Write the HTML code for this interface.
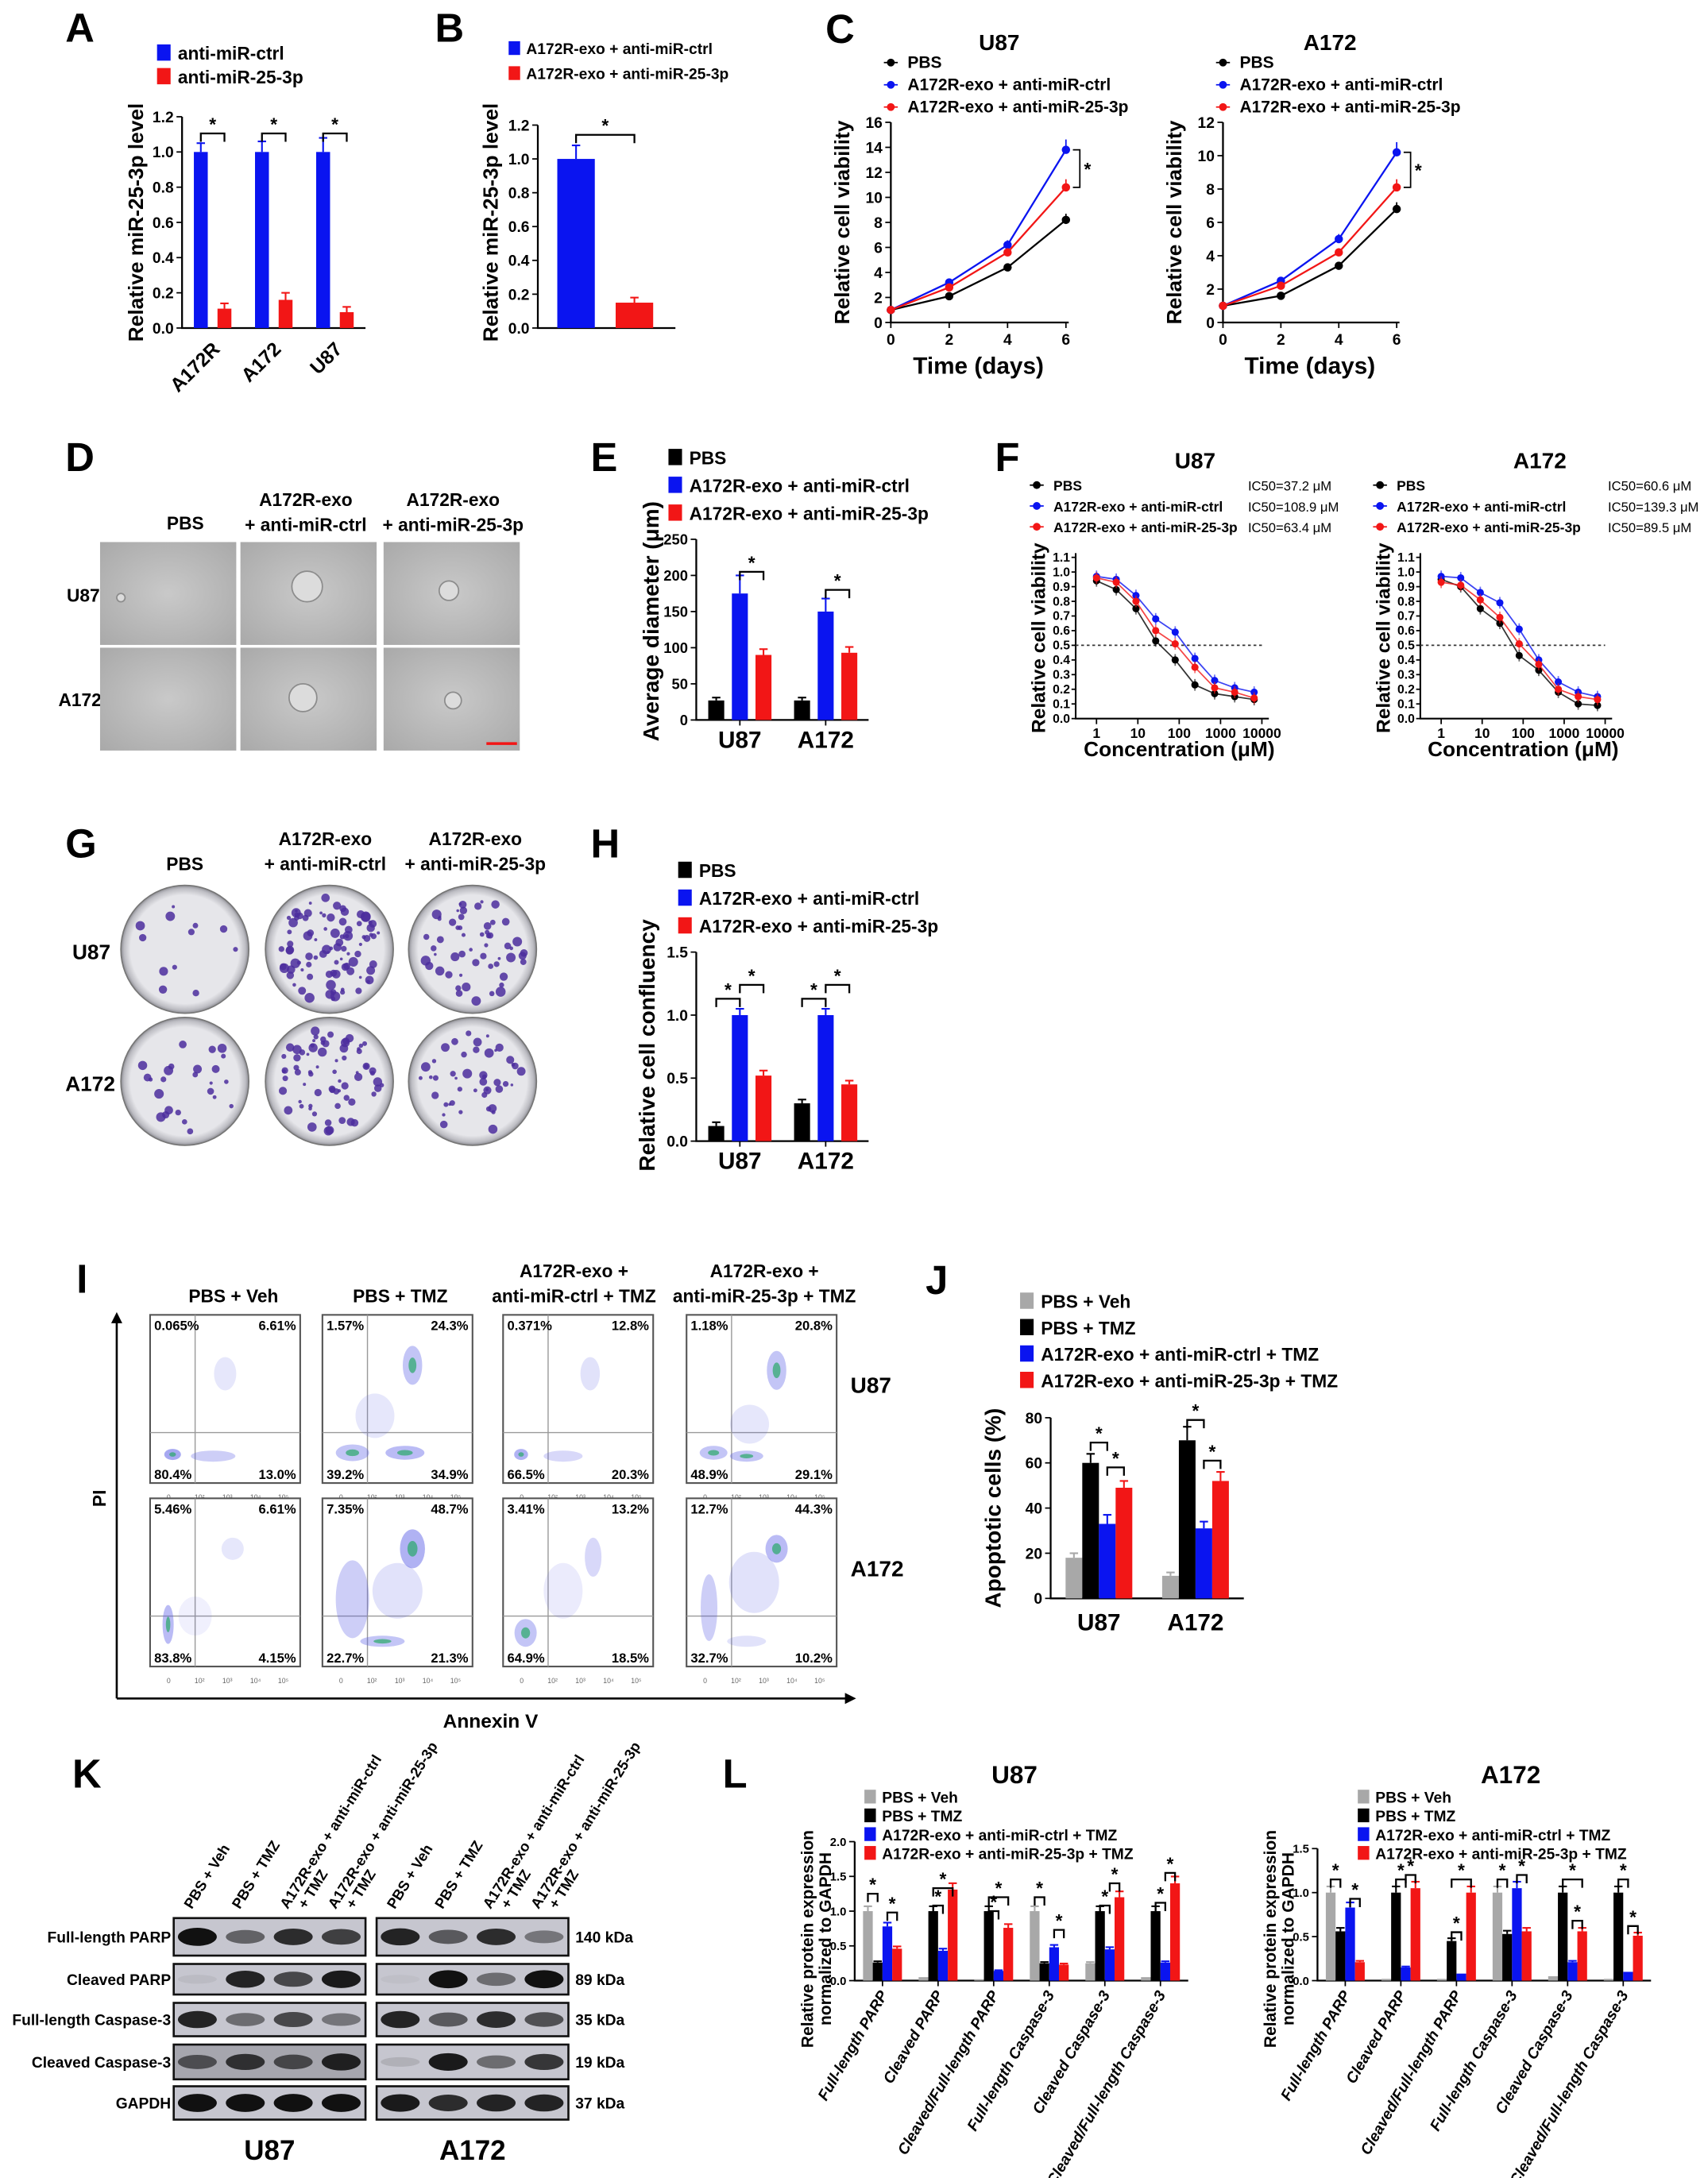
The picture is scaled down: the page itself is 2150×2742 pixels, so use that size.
<!DOCTYPE html>
<html><head><meta charset="utf-8"><style>
html,body{margin:0;padding:0;background:#fff;}
svg{display:block;font-family:"Liberation Sans",Arial,sans-serif;}
</style></head><body>
<svg id="fig" xmlns="http://www.w3.org/2000/svg" width="2150" height="2742" viewBox="0 0 1229 1567" preserveAspectRatio="none">
<defs>
<radialGradient id="micro" cx="50%" cy="50%" r="70%"><stop offset="0" stop-color="#c9c9c9"/><stop offset="1" stop-color="#a9a9a9"/></radialGradient>
<radialGradient id="plate" cx="50%" cy="50%" r="50%"><stop offset="0.85" stop-color="#e6e6ea"/><stop offset="0.95" stop-color="#bdbdc3"/><stop offset="1" stop-color="#8e8e95"/></radialGradient>
</defs>
</svg>
<script>
// ---------- data ----------
const aCats=['A172R','A172','U87'];
const aCtrl=[1.0,1.0,1.0];
const aAnti=[0.11,0.16,0.09];
const aCtrlErr=[0.05,0.06,0.08];
const aAntiErr=[0.03,0.04,0.03];
const bVals=[1.0,0.15];
const bErr=[0.08,0.03];
const cDays=[0,2,4,6];
const cU87Pbs=[1,2.1,4.4,8.2];
const cU87Ctrl=[1,3.2,6.2,13.8];
const cU87Anti=[1,2.8,5.6,10.8];
const cA172Pbs=[1,1.6,3.4,6.8];
const cA172Ctrl=[1,2.5,5.0,10.2];
const cA172Anti=[1,2.2,4.2,8.1];
const eCats=['U87','A172'];
const ePbs=[27,27];
const eCtrl=[175,150];
const eAnti=[90,93];
const fConc=[1,3,9,27,80,240,720,2200,6500];
const fU87Pbs=[0.94,0.88,0.75,0.53,0.40,0.23,0.17,0.15,0.13];
const fU87Ctrl=[0.97,0.95,0.84,0.68,0.59,0.41,0.26,0.21,0.18];
const fU87Anti=[0.96,0.93,0.80,0.60,0.51,0.35,0.21,0.18,0.14];
const fA172Pbs=[0.95,0.90,0.75,0.65,0.43,0.33,0.18,0.10,0.09];
const fA172Ctrl=[0.97,0.96,0.86,0.79,0.61,0.40,0.25,0.18,0.15];
const fA172Anti=[0.93,0.91,0.81,0.69,0.51,0.37,0.20,0.15,0.13];
const hCats=['U87','A172'];
const hPbs=[0.12,0.3];
const hCtrl=[1.0,1.0];
const hAnti=[0.52,0.45];
const jCats=['U87','A172'];
const jVeh=[18,10];
const jTmz=[60,70];
const jCtrl=[33,31];
const jAnti=[49,52];
const lCats=['Full-length PARP','Cleaved PARP','Cleaved/Full-length PARP','Full-length Caspase-3','Cleaved Caspase-3','Cleaved/Full-length Caspase-3'];
const lU87Veh=[1.0,0.05,0.02,1.0,0.25,0.05];
const lU87Tmz=[0.26,1.0,1.0,0.25,1.0,1.0];
const lU87Ctrl=[0.78,0.43,0.14,0.48,0.45,0.26];
const lU87Anti=[0.46,1.31,0.76,0.23,1.2,1.4];
const lA172Veh=[1.0,0.02,0.02,1.0,0.05,0.02];
const lA172Tmz=[0.56,1.0,0.45,0.53,1.0,1.0];
const lA172Ctrl=[0.83,0.15,0.08,1.05,0.21,0.1];
const lA172Anti=[0.21,1.05,1.0,0.56,0.56,0.51];

const NS='http://www.w3.org/2000/svg';
const svg=document.getElementById('fig');
const BLUE='#0a14f0',RED='#f21616',BLK='#000',GRY='#a8a8a8';
function mk(tag,a,name,parent){
  const el=document.createElementNS(NS,tag);
  for(const k in a) el.setAttribute(k,a[k]);
  
  
  (parent||svg).appendChild(el);
  return el;
}
function T(x,y,s,fs,name,o){
  o=o||{};
  const el=mk('text',{x:x,y:y,'font-size':fs,'font-weight':o.w||'bold','text-anchor':o.a||'start',fill:o.f||'#000','font-style':o.it?'italic':'normal'},name);
  el.textContent=s;
  if(o.rot!=null) el.setAttribute('transform','rotate('+o.rot+' '+x+' '+y+')');
  return el;
}
function sig(xa,xb,y,name){
  mk('path',{d:'M'+xa+','+(y+6)+'V'+y+'H'+xb+'V'+(y+6),stroke:'#000','stroke-width':1.3,fill:'none'},name+'-bracket');
  T((xa+xb)/2,y-2,'*',13,name+'-star',{a:'middle'});
}
function legend(x,y,dy,items,colors,fs,name,kind){
  items.forEach(function(s,i){
    const yy=y+i*dy;
    if(kind==='marker'){
      mk('line',{x1:x-5,x2:x+5,y1:yy-4,y2:yy-4,stroke:colors[i],'stroke-width':1},name+'-marker-line');
      mk('circle',{cx:x,cy:yy-4,r:2.8,fill:colors[i]},name+'-marker');
      T(x+12,yy,s,fs,name+'-label');
    } else {
      mk('rect',{x:x,y:yy-fs*0.85,width:fs*0.75,height:fs*0.9,fill:colors[i]},name+'-swatch');
      T(x+fs*1.15,yy,s,fs,name+'-label');
    }
  });
}
function bars(p){
  const sy=function(v){return p.yBot-v/p.max*(p.yBot-p.yTop);};
  mk('path',{d:'M'+p.x0+','+p.yTop+'V'+p.yBot+'H'+p.x1,stroke:'#000','stroke-width':1.3,fill:'none'},p.name+'-axes');
  p.ticks.forEach(function(t){
    mk('line',{x1:p.x0-4,x2:p.x0,y1:sy(t),y2:sy(t),stroke:'#000','stroke-width':1},p.name+'-y-tick');
    T(p.x0-6,sy(t)+p.tfs*0.36,t.toFixed(p.dec),p.tfs,p.name+'-y-tick-label',{a:'end'});
  });
  const gw=(p.x1-p.x0-(p.pad||0))/p.cats.length;const n=p.series.length;const gap=p.gap||0;
  const bx=function(i,j){return p.x0+(p.pad||0)+gw*(i+0.5)-(n*p.bw+(n-1)*gap)/2+j*(p.bw+gap)+p.bw/2;};
  p.cats.forEach(function(c,i){
    p.series.forEach(function(s,j){
      const v=s[i];const x=bx(i,j);
      const e=p.errs?p.errs[j][i]:0;
      if(e){
        mk('line',{x1:x,x2:x,y1:sy(v),y2:sy(v+e),stroke:p.colors[j],'stroke-width':1.2},p.name+'-error-bar');
        mk('line',{x1:x-3,x2:x+3,y1:sy(v+e),y2:sy(v+e),stroke:p.colors[j],'stroke-width':1.2},p.name+'-error-cap');
      }
      mk('rect',{x:x-p.bw/2,y:sy(v),width:p.bw,height:p.yBot-sy(v),fill:p.colors[j]},p.name+'-bar');
    });
    const cx=p.x0+(p.pad||0)+gw*(i+0.5);
    if(p.xtick) mk('line',{x1:cx,x2:cx,y1:p.yBot,y2:p.yBot+4,stroke:'#000'},p.name+'-x-tick');
    if(p.rot) T(cx+(p.catDx||4),p.yBot+p.catDy,c,p.catFs,p.name+'-category-label',{a:'end',rot:p.rot,it:p.italic});
    else T(cx,p.yBot+p.catDy,c,p.catFs,p.name+'-category-label',{a:'middle'});
  });
  return {bx:bx,sy:sy};
}

// ---------- panel letters ----------
[['A',47,30],['B',313,30],['C',594,31],['D',47,339],['E',425,339],['F',716,339],['G',47,617],['H',425,617],['I',55,930],['J',666,931],['K',52,1286],['L',520,1286]].forEach(function(a){
  T(a[1],a[2],a[0],29,'panel-label-'+a[0].toLowerCase());
});

// ---------- A ----------
legend(113,43,17,['anti-miR-ctrl','anti-miR-25-3p'],[BLUE,RED],13,'panel-a-legend');
T(103,160,'Relative miR-25-3p level',15,'panel-a-y-axis-title',{a:'middle',rot:-90});
(function(){
  const b=bars({name:'panel-a',x0:131,x1:263,yTop:84,yBot:236,max:1.2,ticks:[0,0.2,0.4,0.6,0.8,1.0,1.2],dec:1,tfs:11,cats:aCats,series:[aCtrl,aAnti],errs:[aCtrlErr,aAntiErr],colors:[BLUE,RED],bw:10,gap:7,catFs:14,rot:-45,catDy:16,catDx:6});
  aCats.forEach(function(c,i){sig(b.bx(i,0),b.bx(i,1),96,'panel-a-significance');});
})();

// ---------- B ----------
legend(366,39,18,['A172R-exo + anti-miR-ctrl','A172R-exo + anti-miR-25-3p'],[BLUE,RED],11,'panel-b-legend');
T(358,160,'Relative miR-25-3p level',15,'panel-b-y-axis-title',{a:'middle',rot:-90});
(function(){
  const b=bars({name:'panel-b',x0:387,x1:486,yTop:90,yBot:236,max:1.2,ticks:[0,0.2,0.4,0.6,0.8,1.0,1.2],dec:1,tfs:11,cats:[''],series:[[bVals[0]],[bVals[1]]],errs:[[bErr[0]],[bErr[1]]],colors:[BLUE,RED],bw:27,gap:15,catFs:12,catDy:16,pad:-2});
  sig(b.bx(0,0),b.bx(0,1),97,'panel-b-significance');
})();

// ---------- C ----------
function lineChart(p){
  const sx=function(v){return p.x0+v/6*(p.x1-p.x0);};
  const sy=function(v){return p.yBot-v/p.max*(p.yBot-p.yTop);};
  mk('path',{d:'M'+p.x0+','+p.yTop+'V'+p.yBot+'H'+(p.x1+2),stroke:'#000','stroke-width':1.3,fill:'none'},p.name+'-axes');
  p.ticks.forEach(function(t){
    mk('line',{x1:p.x0-4,x2:p.x0,y1:sy(t),y2:sy(t),stroke:'#000'},p.name+'-y-tick');
    T(p.x0-6,sy(t)+4,String(t),11,p.name+'-y-tick-label',{a:'end'});
  });
  cDays.forEach(function(d){
    mk('line',{x1:sx(d),x2:sx(d),y1:p.yBot,y2:p.yBot+4,stroke:'#000'},p.name+'-x-tick');
    T(sx(d),p.yBot+16,String(d),11,p.name+'-x-tick-label',{a:'middle'});
  });
  p.series.forEach(function(s,j){
    mk('polyline',{points:cDays.map(function(d,i){return sx(d)+','+sy(s[i]);}).join(' '),fill:'none',stroke:p.colors[j],'stroke-width':1.3},p.name+'-line');
    cDays.forEach(function(d,i){
      const e=s[i]*0.06;
      mk('line',{x1:sx(d),x2:sx(d),y1:sy(s[i]),y2:sy(s[i]+e),stroke:p.colors[j]},p.name+'-error-bar');
      mk('circle',{cx:sx(d),cy:sy(s[i]),r:3,fill:p.colors[j]},p.name+'-point');
    });
  });
  const last=cDays.length-1;
  const ya=sy(p.series[1][last]),yb=sy(p.series[2][last]);
  mk('path',{d:'M'+(p.x1+5)+','+ya+'H'+(p.x1+10)+'V'+yb+'H'+(p.x1+5),stroke:'#000',fill:'none','stroke-width':1},p.name+'-significance-bracket');
  T(p.x1+13,(ya+yb)/2+5,'*',13,p.name+'-significance-star');
  T((p.x0+p.x1)/2,p.yBot+37,'Time (days)',17,p.name+'-x-axis-title',{a:'middle'});
  T(p.x0-30,(p.yTop+p.yBot)/2,'Relative cell viability',15,p.name+'-y-axis-title',{a:'middle',rot:-90});
  T(p.tx,36,p.title,16,p.name+'-title',{a:'middle'});
  legend(p.x0,p.lgY,16,['PBS','A172R-exo + anti-miR-ctrl','A172R-exo + anti-miR-25-3p'],[BLK,BLUE,RED],12,p.name+'-legend','marker');
}
lineChart({name:'panel-c-u87',x0:641,x1:767,yTop:88,yBot:232,max:16,ticks:[0,2,4,6,8,10,12,14,16],series:[cU87Pbs,cU87Ctrl,cU87Anti],colors:[BLK,BLUE,RED],title:'U87',tx:719,lgY:49});
lineChart({name:'panel-c-a172',x0:880,x1:1005,yTop:88,yBot:232,max:12,ticks:[0,2,4,6,8,10,12],series:[cA172Pbs,cA172Ctrl,cA172Anti],colors:[BLK,BLUE,RED],title:'A172',tx:957,lgY:49});

// ---------- D ----------
T(120,381,'PBS',13,'panel-d-column-label');
T(220,364,'A172R-exo',13,'panel-d-column-label',{a:'middle'});
T(220,382,'+ anti-miR-ctrl',13,'panel-d-column-label',{a:'middle'});
T(326,364,'A172R-exo',13,'panel-d-column-label',{a:'middle'});
T(326,382,'+ anti-miR-25-3p',13,'panel-d-column-label',{a:'middle'});
T(48,433,'U87',13,'panel-d-row-label');
T(42,508,'A172',13,'panel-d-row-label');
[72,173,276].forEach(function(x,ci){[390,466].forEach(function(y,ri){
  mk('rect',{x:x,y:y,width:98,height:74,fill:'url(#micro)'},'panel-d-micrograph');
  const sp=[[[15,40,3],[160,0,0]],[[48,32,11],[45,36,10]],[[47,35,7],[50,38,6]]][ci][ri];
  if(sp[2]) mk('circle',{cx:x+sp[0],cy:y+sp[1],r:sp[2],fill:'#dcdcdc',stroke:'#8c8c8c','stroke-width':1},'panel-d-sphere');
});});
mk('line',{x1:350,x2:372,y1:535,y2:535,stroke:RED,'stroke-width':2},'panel-d-scale-bar');

// ---------- E ----------
legend(481,334,20,['PBS','A172R-exo + anti-miR-ctrl','A172R-exo + anti-miR-25-3p'],[BLK,BLUE,RED],13,'panel-e-legend');
T(474,447,'Average diameter (μm)',16,'panel-e-y-axis-title',{a:'middle',rot:-90});
(function(){
  const b=bars({name:'panel-e',x0:501,x1:625,yTop:388,yBot:518,max:250,ticks:[0,50,100,150,200,250],dec:0,tfs:10.5,cats:eCats,series:[ePbs,eCtrl,eAnti],errs:[[4,4],[25,18],[8,8]],colors:[BLK,BLUE,RED],bw:11.5,gap:5.5,catFs:17,catDy:20,pad:0.5,xtick:true});
  eCats.forEach(function(c,i){sig(b.bx(i,1),b.bx(i,2),b.sy(eCtrl[i]+30),'panel-e-significance');});
})();

// ---------- F ----------
function dose(p){
  const lx=function(v){return p.xs+Math.log10(v)/4*(p.xe-p.xs);};
  const sy=function(v){return p.yBot-v/1.1*(p.yBot-p.yTop);};
  mk('path',{d:'M'+p.x0+','+(p.yTop-3)+'V'+p.yBot+'H'+(p.xe+5),stroke:'#000','stroke-width':1.2,fill:'none'},p.name+'-axes');
  [0,0.1,0.2,0.3,0.4,0.5,0.6,0.7,0.8,0.9,1.0,1.1].forEach(function(t){
    mk('line',{x1:p.x0-3,x2:p.x0,y1:sy(t),y2:sy(t),stroke:'#000'},p.name+'-y-tick');
    T(p.x0-4,sy(t)+3,t.toFixed(1),9,p.name+'-y-tick-label',{a:'end'});
  });
  [1,10,100,1000,10000].forEach(function(t){
    mk('line',{x1:lx(t),x2:lx(t),y1:p.yBot,y2:p.yBot+4,stroke:'#000'},p.name+'-x-tick');
    T(lx(t),p.yBot+14,String(t),10,p.name+'-x-tick-label',{a:'middle'});
  });
  mk('line',{x1:p.x0,x2:p.xe,y1:sy(0.5),y2:sy(0.5),stroke:'#333','stroke-dasharray':'2,2'},p.name+'-ic50-line');
  p.series.forEach(function(s,j){
    mk('polyline',{points:fConc.map(function(c,i){return lx(c)+','+sy(s[i]);}).join(' '),fill:'none',stroke:p.colors[j],'stroke-width':1,opacity:0.8},p.name+'-curve');
    fConc.forEach(function(c,i){
      mk('line',{x1:lx(c),x2:lx(c),y1:sy(s[i]-0.04),y2:sy(s[i]+0.04),stroke:p.colors[j],opacity:0.6},p.name+'-error-bar');
      mk('circle',{cx:lx(c),cy:sy(s[i]),r:2.6,fill:p.colors[j]},p.name+'-point');
    });
  });
  T((p.xs+p.xe)/2,p.yBot+27,'Concentration (μM)',15,p.name+'-x-axis-title',{a:'middle'});
  T(p.x0-22,(p.yTop+p.yBot)/2,'Relative cell viability',14,p.name+'-y-axis-title',{a:'middle',rot:-90});
  T(p.tx,337,p.title,16,p.name+'-title',{a:'middle'});
  legend(p.lx,353,15,['PBS','A172R-exo + anti-miR-ctrl','A172R-exo + anti-miR-25-3p'],[BLK,BLUE,RED],10,p.name+'-legend','marker');
  p.ic.forEach(function(s,i){T(p.icx,353+i*15,s,9.5,p.name+'-ic50-label',{w:'normal'});});
}
dose({name:'panel-f-u87',x0:774,xs:789,xe:908,yTop:401,yBot:517,series:[fU87Pbs,fU87Ctrl,fU87Anti],colors:[BLK,BLUE,RED],title:'U87',tx:860,lx:746,icx:898,ic:['IC50=37.2 μM','IC50=108.9 μM','IC50=63.4 μM']});
dose({name:'panel-f-a172',x0:1022,xs:1037,xe:1155,yTop:401,yBot:517,series:[fA172Pbs,fA172Ctrl,fA172Anti],colors:[BLK,BLUE,RED],title:'A172',tx:1108,lx:993,icx:1157,ic:['IC50=60.6 μM','IC50=139.3 μM','IC50=89.5 μM']});

// ---------- G ----------
T(133,626,'PBS',13,'panel-g-column-label',{a:'middle'});
T(234,608,'A172R-exo',13,'panel-g-column-label',{a:'middle'});
T(234,626,'+ anti-miR-ctrl',13,'panel-g-column-label',{a:'middle'});
T(342,608,'A172R-exo',13,'panel-g-column-label',{a:'middle'});
T(342,626,'+ anti-miR-25-3p',13,'panel-g-column-label',{a:'middle'});
T(52,690,'U87',15,'panel-g-row-label');
T(47,785,'A172',15,'panel-g-row-label');
(function(){
  let seed=7;function rnd(){seed=(seed*16807)%2147483647;return seed/2147483647;}
  const density=[[12,90,55],[25,70,45]];
  [133,237,340].forEach(function(cx,ci){[683,778].forEach(function(cy,ri){
    mk('circle',{cx:cx,cy:cy,r:46,fill:'url(#plate)',stroke:'#777','stroke-width':1},'panel-g-plate');
    const n=density[ri][ci];
    for(let k=0;k<n;k++){
      const a=rnd()*6.283,r=Math.sqrt(rnd())*38;
      mk('circle',{cx:cx+r*Math.cos(a),cy:cy+r*Math.sin(a),r:1+rnd()*2.6,fill:'#4b2d9e',opacity:0.85},'panel-g-colony');
    }
  });});
})();

// ---------- H ----------
legend(488,631,20,['PBS','A172R-exo + anti-miR-ctrl','A172R-exo + anti-miR-25-3p'],[BLK,BLUE,RED],13,'panel-h-legend');
T(471,752,'Relative cell confluency',16,'panel-h-y-axis-title',{a:'middle',rot:-90});
(function(){
  const b=bars({name:'panel-h',x0:501,x1:625,yTop:685,yBot:821,max:1.5,ticks:[0,0.5,1.0,1.5],dec:1,tfs:11,cats:hCats,series:[hPbs,hCtrl,hAnti],errs:[[0.03,0.03],[0.05,0.05],[0.04,0.03]],colors:[BLK,BLUE,RED],bw:11.5,gap:5.5,pad:0.5,catFs:17,catDy:20,xtick:true});
  hCats.forEach(function(c,i){
    sig(b.bx(i,0),b.bx(i,1),b.sy(1.13),'panel-h-significance');
    sig(b.bx(i,1),b.bx(i,2),b.sy(1.24),'panel-h-significance');
  });
})();

// ---------- I ----------
T(168,937,'PBS + Veh',13,'panel-i-column-label',{a:'middle'});
T(288,937,'PBS + TMZ',13,'panel-i-column-label',{a:'middle'});
T(413,919,'A172R-exo +',13,'panel-i-column-label',{a:'middle'});
T(413,937,'anti-miR-ctrl + TMZ',13,'panel-i-column-label',{a:'middle'});
T(550,919,'A172R-exo +',13,'panel-i-column-label',{a:'middle'});
T(550,937,'anti-miR-25-3p + TMZ',13,'panel-i-column-label',{a:'middle'});
T(612,1002,'U87',16,'panel-i-row-label');
T(612,1134,'A172',16,'panel-i-row-label');
mk('path',{d:'M84,1222V948',stroke:'#000','stroke-width':1.5,fill:'none'},'panel-i-y-arrow');
mk('path',{d:'M80,952L84,944L88,952Z',fill:'#000'},'panel-i-y-arrowhead');
mk('path',{d:'M84,1222H612',stroke:'#000','stroke-width':1.5,fill:'none'},'panel-i-x-arrow');
mk('path',{d:'M608,1218L616,1222L608,1226Z',fill:'#000'},'panel-i-x-arrowhead');
T(76,1078,'PI',13,'panel-i-y-axis-title',{a:'middle',rot:-90});
T(353,1243,'Annexin V',14,'panel-i-x-axis-title',{a:'middle'});
(function(){
  const cols=[108,232,362,494],rows=[946,1078],W=108,H=121;
  const pct=[
    [['0.065%','6.61%','80.4%','13.0%'],['1.57%','24.3%','39.2%','34.9%'],['0.371%','12.8%','66.5%','20.3%'],['1.18%','20.8%','48.9%','29.1%']],
    [['5.46%','6.61%','83.8%','4.15%'],['7.35%','48.7%','22.7%','21.3%'],['3.41%','13.2%','64.9%','18.5%'],['12.7%','44.3%','32.7%','10.2%']]];
  const blobs=[
    [[[0.15,0.83,6,4,0.9],[0.42,0.84,16,4,0.5],[0.5,0.35,8,12,0.25]],[[0.2,0.82,12,6,0.6],[0.35,0.6,14,16,0.25],[0.55,0.82,14,5,0.7],[0.6,0.3,7,14,0.6]],[[0.12,0.83,5,4,0.8],[0.4,0.84,14,4,0.4],[0.58,0.35,7,12,0.3]],[[0.18,0.82,10,5,0.6],[0.42,0.65,14,14,0.25],[0.4,0.84,12,4,0.6],[0.6,0.33,7,14,0.6]]],
    [[[0.12,0.75,4,14,0.7],[0.3,0.7,12,14,0.15],[0.55,0.3,8,8,0.25]],[[0.2,0.6,12,28,0.5],[0.5,0.55,18,20,0.3],[0.6,0.3,9,14,0.8],[0.4,0.85,16,4,0.6]],[[0.15,0.8,8,10,0.6],[0.4,0.55,14,20,0.2],[0.6,0.35,6,14,0.4]],[[0.15,0.65,6,24,0.5],[0.45,0.5,18,22,0.3],[0.6,0.3,8,10,0.7],[0.4,0.85,14,4,0.3]]]];
  rows.forEach(function(y,ri){cols.forEach(function(x,ci){
    mk('rect',{x:x,y:y,width:W,height:H,fill:'#fff',stroke:'#555','stroke-width':1.2},'panel-i-flow-plot');
    mk('line',{x1:x+W*0.3,x2:x+W*0.3,y1:y,y2:y+H,stroke:'#999','stroke-width':0.8},'panel-i-gate-vertical');
    mk('line',{x1:x,x2:x+W,y1:y+H*0.7,y2:y+H*0.7,stroke:'#999','stroke-width':0.8},'panel-i-gate-horizontal');
    blobs[ri][ci].forEach(function(b){
      mk('ellipse',{cx:x+W*b[0],cy:y+H*b[1],rx:b[2],ry:b[3],fill:'#5a5ee6',opacity:b[4]*0.6},'panel-i-event-cloud');
      if(b[4]>0.55) mk('ellipse',{cx:x+W*b[0],cy:y+H*b[1],rx:b[2]*0.4,ry:b[3]*0.4,fill:'#2aa86a',opacity:0.7},'panel-i-event-core');
    });
    const p=pct[ri][ci];
    T(x+3,y+11,p[0],9.5,'panel-i-quadrant-percent');
    T(x+W-3,y+11,p[1],9.5,'panel-i-quadrant-percent',{a:'end'});
    T(x+3,y+H-3,p[2],9.5,'panel-i-quadrant-percent');
    T(x+W-3,y+H-3,p[3],9.5,'panel-i-quadrant-percent',{a:'end'});
    ['0','10²','10³','10⁴','10⁵'].forEach(function(s,k){T(x+12+k*20,y+H+12,s,5,'panel-i-x-tick-label',{w:'normal',f:'#666'});});
  });});
})();

// ---------- J ----------
legend(734,941,19,['PBS + Veh','PBS + TMZ','A172R-exo + anti-miR-ctrl + TMZ','A172R-exo + anti-miR-25-3p + TMZ'],[GRY,BLK,BLUE,RED],13,'panel-j-legend');
T(720,1085,'Apoptotic  cells (%)',16,'panel-j-y-axis-title',{a:'middle',rot:-90});
(function(){
  const b=bars({name:'panel-j',x0:756,x1:895,yTop:1020,yBot:1150,max:80,ticks:[0,20,40,60,80],dec:0,tfs:11,cats:jCats,series:[jVeh,jTmz,jCtrl,jAnti],errs:[[2,1.5],[4,6],[4,3],[3,4]],colors:[GRY,BLK,BLUE,RED],bw:12,catFs:17,catDy:23});
  jCats.forEach(function(c,i){
    sig(b.bx(i,1),b.bx(i,2),b.sy(jTmz[i]+9),'panel-j-significance');
    sig(b.bx(i,2),b.bx(i,3),b.sy(jAnti[i]+9),'panel-j-significance');
  });
})();

// ---------- K ----------
(function(){
  const rows=['Full-length PARP','Cleaved PARP','Full-length Caspase-3','Cleaved Caspase-3','GAPDH'];
  const kda=['140 kDa','89 kDa','35 kDa','19 kDa','37 kDa'];
  const ys=[1380,1413,1441,1471,1501];const hs=[27,22,24,25,24];
  const u87=[[1,0.55,0.85,0.75],[0.06,0.9,0.7,0.95],[0.9,0.5,0.7,0.45],[0.6,0.8,0.65,0.9],[1,1,1,1]];
  const a172=[[0.9,0.6,0.85,0.45],[0.04,1,0.5,1],[0.9,0.6,0.85,0.65],[0.12,0.95,0.5,0.8],[0.95,0.85,0.9,0.9]];
  const blocks=[[125,u87],[271,a172]];
  rows.forEach(function(r,ri){
    T(123,ys[ri]+hs[ri]/2+4,r,11,'panel-k-row-label',{a:'end'});
    T(414,ys[ri]+hs[ri]/2+4,kda[ri],11,'panel-k-kda-label');
    blocks.forEach(function(bl){
      const x=bl[0];
      mk('rect',{x:x,y:ys[ri],width:138,height:hs[ri],fill:ri===3&&x===125?'#a6a6ae':'#c6c6cf',stroke:'#111','stroke-width':1.5},'panel-k-blot');
      bl[1][ri].forEach(function(v,k){
        const cx=x+17+k*34.5;
        mk('ellipse',{cx:cx,cy:ys[ri]+hs[ri]/2,rx:14,ry:3+v*3.5,fill:'#111',opacity:v},'panel-k-band');
      });
    });
  });
  const lanes=[['PBS + Veh',''],['PBS + TMZ',''],['A172R-exo + anti-miR-ctrl','+ TMZ'],['A172R-exo + anti-miR-25-3p','+ TMZ']];
  blocks.forEach(function(bl){
    lanes.forEach(function(l,k){
      const cx=bl[0]+17+k*34.5;
      T(cx-4,1374,l[0],10.5,'panel-k-lane-label',{rot:-58});
      if(l[1]) T(cx+9,1374,l[1],10.5,'panel-k-lane-label',{rot:-58});
    });
  });
  T(194,1554,'U87',20,'panel-k-cell-label',{a:'middle'});
  T(340,1554,'A172',20,'panel-k-cell-label',{a:'middle'});
})();

// ---------- L ----------
function lPanel(p){
  legend(p.lgx,1297,13.5,['PBS + Veh','PBS + TMZ','A172R-exo + anti-miR-ctrl + TMZ','A172R-exo + anti-miR-25-3p + TMZ'],[GRY,BLK,BLUE,RED],11,p.name+'-legend');
  T(p.tx,1283,p.title,18,p.name+'-title',{a:'middle'});
  T(p.x0-30,1395,'Relative protein expression',12,p.name+'-y-axis-title',{a:'middle',rot:-90});
  T(p.x0-17,1395,'normalized to GAPDH',12,p.name+'-y-axis-title',{a:'middle',rot:-90});
  const b=bars({name:p.name,x0:p.x0,x1:p.x1,yTop:p.yTop,yBot:1425,max:p.max,ticks:p.ticks,dec:1,tfs:8.5,cats:lCats,series:p.series,errs:p.series.map(function(s){return s.map(function(v){return v>0.1?v*0.07:0;});}),colors:[GRY,BLK,BLUE,RED],bw:7,catFs:11,rot:-60,catDy:10,catDx:4,italic:true,xtick:true});
  p.sigs.forEach(function(s){sig(b.bx(s[0],s[1]),b.bx(s[0],s[2]),b.sy(s[3]),p.name+'-significance');});
}
lPanel({name:'panel-l-u87',x0:615,x1:855,yTop:1325,max:2.0,ticks:[0,0.5,1.0,1.5,2.0],series:[lU87Veh,lU87Tmz,lU87Ctrl,lU87Anti],title:'U87',tx:730,lgx:622,
  sigs:[[0,0,1,1.25],[0,2,3,0.98],[1,1,3,1.33],[1,1,2,1.08],[2,1,3,1.2],[2,1,2,1.0],[3,0,1,1.2],[3,2,3,0.73],[4,1,2,1.08],[4,2,3,1.4],[5,1,2,1.12],[5,2,3,1.55]]});
lPanel({name:'panel-l-a172',x0:948,x1:1188,yTop:1330,max:1.5,ticks:[0,0.5,1.0,1.5],series:[lA172Veh,lA172Tmz,lA172Ctrl,lA172Anti],title:'A172',tx:1087,lgx:977,
  sigs:[[0,0,1,1.15],[0,2,3,0.93],[1,1,2,1.15],[1,2,3,1.2],[2,1,3,1.15],[2,1,2,0.55],[3,0,1,1.15],[3,2,3,1.2],[4,1,3,1.15],[4,2,3,0.68],[5,1,2,1.15],[5,2,3,0.62]]});
</script>
</body></html>
